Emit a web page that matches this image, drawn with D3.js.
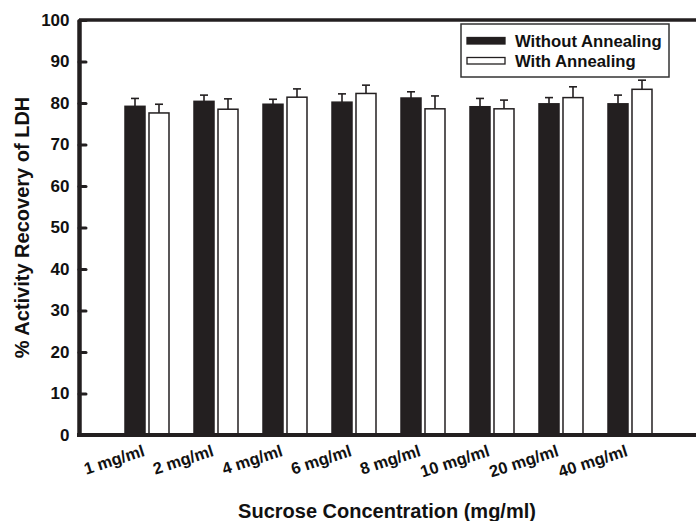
<!DOCTYPE html>
<html>
<head>
<meta charset="utf-8">
<script src="https://cdn.jsdelivr.net/npm/d3@7/dist/d3.min.js"></script>
<style>
  html, body { margin: 0; padding: 0; background: #fff; }
  svg { display: block; font-family: "Liberation Sans", Arial, Helvetica, sans-serif; font-weight: bold; }
</style>
</head>
<body>
<svg id="chart" width="696" height="521"></svg>
<script>
// Sucrose concentrations tested
const categories = ["1 mg/ml", "2 mg/ml", "4 mg/ml", "6 mg/ml", "8 mg/ml", "10 mg/ml", "20 mg/ml", "40 mg/ml"];
const seriesNames = ["Without Annealing", "With Annealing"];
// Mean % activity recovery of LDH
const withoutAnnealing = [79.2, 80.4, 79.7, 80.2, 81.2, 79.1, 79.8, 79.8];
const withAnnealing    = [77.6, 78.5, 81.4, 82.3, 78.6, 78.6, 81.3, 83.3];
// Standard deviations (upper error bars)
const withoutAnnealingErr = [1.9, 1.5, 1.2, 2.0, 1.5, 2.0, 1.5, 2.1];
const withAnnealingErr    = [2.1, 2.5, 2.0, 2.0, 3.1, 2.1, 2.6, 2.2];
const yTicks = [0, 10, 20, 30, 40, 50, 60, 70, 80, 90, 100];

const ink = "#231f20";
const svg = d3.select("#chart");

const plotLeft = 79, plotTop = 20, plotBottom = 435, plotRight = 696;

const y = d3.scaleLinear().domain([0, 100]).range([plotBottom, plotTop]);
const x0 = d3.scaleBand().domain(categories).range([112.5, 664.5]).padding(0);
const x1 = d3.scaleBand().domain(seriesNames).range([0, x0.bandwidth()])
  .paddingInner(1 / 6).paddingOuter(0.521);

const rows = categories.map((c, i) => ({
  cat: c,
  bars: [
    { s: seriesNames[0], v: withoutAnnealing[i], e: withoutAnnealingErr[i] },
    { s: seriesNames[1], v: withAnnealing[i], e: withAnnealingErr[i] }
  ]
}));

// Bars with upper error bars
const g = svg.append("g").selectAll("g").data(rows).join("g")
  .attr("transform", d => `translate(${x0(d.cat)},0)`);

const bar = g.selectAll("g").data(d => d.bars).join("g");

bar.append("line")
  .attr("x1", d => x1(d.s) + x1.bandwidth() / 2)
  .attr("x2", d => x1(d.s) + x1.bandwidth() / 2)
  .attr("y1", d => y(d.v))
  .attr("y2", d => y(d.v + d.e))
  .attr("stroke", ink).attr("stroke-width", 1.6);
bar.append("line")
  .attr("x1", d => x1(d.s) + x1.bandwidth() / 2 - 4)
  .attr("x2", d => x1(d.s) + x1.bandwidth() / 2 + 4)
  .attr("y1", d => y(d.v + d.e))
  .attr("y2", d => y(d.v + d.e))
  .attr("stroke", ink).attr("stroke-width", 1.6);

bar.append("rect")
  .attr("x", d => x1(d.s))
  .attr("width", x1.bandwidth())
  .attr("y", d => y(d.v))
  .attr("height", d => y(0) - y(d.v))
  .attr("fill", d => d.s === seriesNames[0] ? ink : "#fff")
  .attr("stroke", ink).attr("stroke-width", 1.5);

// Top frame line
svg.append("line")
  .attr("x1", plotLeft).attr("x2", plotRight)
  .attr("y1", plotTop).attr("y2", plotTop)
  .attr("stroke", ink).attr("stroke-width", 3.5);

// Y axis with inward ticks
const yAxis = svg.append("g")
  .attr("transform", `translate(${plotLeft},0)`)
  .call(d3.axisLeft(y).tickValues(yTicks).tickSize(-7).tickPadding(9.5).tickSizeOuter(0));
yAxis.select(".domain").attr("stroke", ink).attr("stroke-width", 4.5);
yAxis.selectAll(".tick line").attr("stroke", ink).attr("stroke-width", 3).attr("stroke-linecap", "round");
yAxis.selectAll(".tick text").attr("fill", "#111").attr("font-size", 17).attr("font-weight", "bold")
  .attr("font-family", "Liberation Sans, Arial, sans-serif");

// X axis line and rotated category labels
const xAxis = svg.append("g")
  .attr("transform", `translate(0,${plotBottom})`)
  .call(d3.axisBottom(x0).tickSize(0).tickSizeOuter(0));
xAxis.select(".domain").attr("d", `M${plotLeft - 2},0H${plotRight}`)
  .attr("stroke", ink).attr("stroke-width", 4);
xAxis.selectAll(".tick text")
  .attr("fill", "#111").attr("font-size", 16.5).attr("font-weight", "bold")
  .attr("font-family", "Liberation Sans, Arial, sans-serif")
  .attr("text-anchor", "end")
  .attr("y", 0).attr("dy", 0)
  .attr("transform", "translate(-1.5,20.5) rotate(-18)");

// Axis titles
svg.append("text")
  .attr("transform", `translate(29,${(plotTop + plotBottom) / 2}) rotate(-90)`)
  .attr("text-anchor", "middle")
  .attr("font-size", 20).attr("fill", "#111")
  .text("% Activity Recovery of LDH");

svg.append("text")
  .attr("x", 387).attr("y", 518)
  .attr("text-anchor", "middle")
  .attr("font-size", 20).attr("fill", "#111")
  .text("Sucrose Concentration (mg/ml)");

// Legend
const legend = svg.append("g");
legend.append("rect")
  .attr("x", 461).attr("y", 24).attr("width", 208).attr("height", 53)
  .attr("fill", "#fff").attr("stroke", "#333").attr("stroke-width", 1.5);
const items = legend.selectAll("g.item").data(seriesNames).join("g")
  .attr("class", "item")
  .attr("transform", (d, i) => `translate(0,${i * 20})`);
items.append("rect")
  .attr("x", 467).attr("y", 37.5).attr("width", 38).attr("height", 6.5)
  .attr("fill", (d, i) => i === 0 ? ink : "#fff")
  .attr("stroke", ink).attr("stroke-width", 1.3);
items.append("text")
  .attr("x", 515).attr("y", 46.5)
  .attr("font-size", 16.7).attr("fill", "#111")
  .text(d => d);
</script>
</body>
</html>
